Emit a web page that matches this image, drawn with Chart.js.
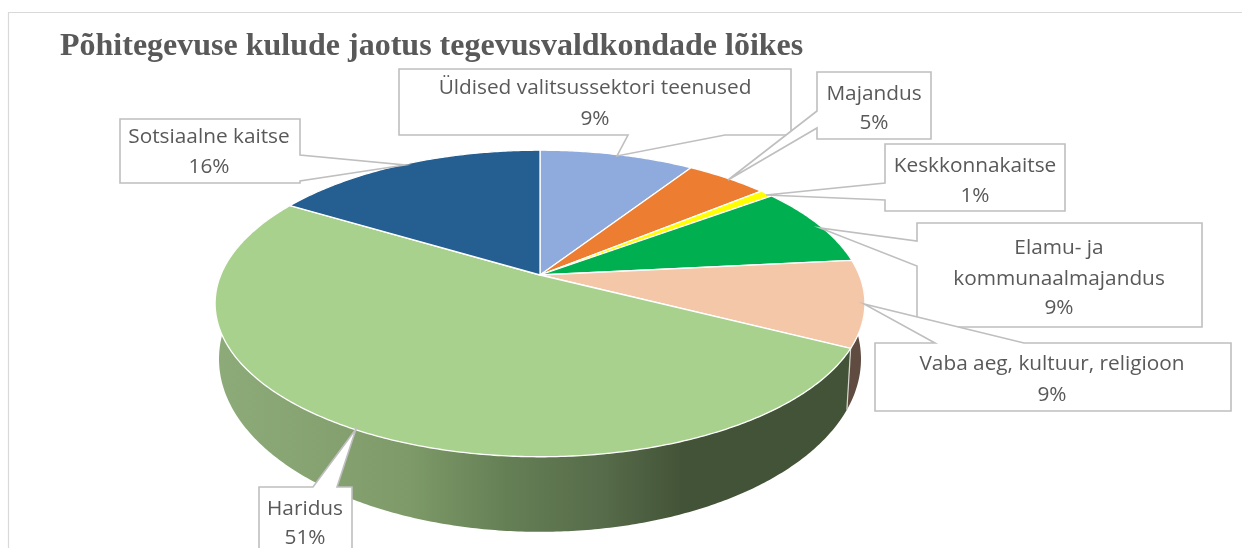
<!DOCTYPE html>
<html><head><meta charset="utf-8">
<style>html,body{margin:0;padding:0;background:#fff}#w{width:1242px;height:548px;position:relative}</style>
<script src="https://cdn.jsdelivr.net/npm/chart.js@4/dist/chart.umd.min.js"></script>
</head><body><div id="w"><canvas id="c" width="1242" height="548"></canvas></div>
<script>
const titleText = 'Põhitegevuse kulude jaotus tegevusvaldkondade lõikes';
const categories = ['Üldised valitsussektori teenused','Majandus','Keskkonnakaitse','Elamu- ja kommunaalmajandus','Vaba aeg, kultuur, religioon','Haridus','Sotsiaalne kaitse'];
const values = [9.2,4.9,0.8,8.5,9.1,51.1,16.4];
const sliceColors = ['#8faadc','#ed7d31','#ffff00','#00b050','#f4c7a9','#a9d18e','#255e91'];
const wallColors = ['#5f7fb0','#a85820','#b0b000','#007a38','#5f4b40',null,'#1a4268'];
const labelLines = [['Üldised valitsussektori teenused'],['Majandus'],['Keskkonnakaitse'],['Elamu- ja','kommunaalmajandus'],['Vaba aeg, kultuur, religioon'],['Haridus'],['Sotsiaalne kaitse']];
// callout outlines (page layout): box, then pointer tip and the two points where it leaves the box
const callouts = [
 {i:6,box:[120,119,300,183],side:'r',a:155,b:181,tip:[405,165],ty:[137,167],cx:209},
 {i:0,box:[399,69,791,135],side:'b',a:725,b:628,tip:[617,156],ty:[88,119],cx:595},
 {i:1,box:[817,72,931,139],side:'l',a:128,b:111,tip:[728,180],ty:[94,123],cx:874},
 {i:2,box:[885,144,1065,211],side:'l',a:200,b:183,tip:[766,195],ty:[166,196],cx:975},
 {i:3,box:[917,223,1202,327],side:'l',a:266,b:241,tip:[820,228],ty:[248,279,308],cx:1059},
 {i:4,box:[875,343,1231,411],side:'t',a:935,b:1024,tip:[864,304],ty:[364,395],cx:1052},
 {i:5,box:[259,487,352,556],side:'t',a:313,b:337,tip:[356,429],ty:[509,538],cx:305}
];
const persp = 0.1857, topStretch = 2.157;       // top face: perspective and horizontal stretch
const wallDrop = 52, wallScale = 0.988, wallScaleY = 1.127; // lower rim relative to the top rim
const wallStops = [[0,'#8dab79'],[.2,'#84a06f'],[.3,'#7d9a68'],[.45,'#657f55'],[.6,'#566b4a'],[.72,'#435337'],[1,'#435337']];

function proj(arc,a,low){
  const u=Math.cos(a),v=Math.sin(a),d=1-persp*v,R=arc.outerRadius;
  const sx=low?wallScale:1, sy=low?wallScaleY:1;
  return [arc.x+u/d*R*topStretch*sx, arc.y+(low?wallDrop:0)+v/d*R*sy];
}
function rim(ctx,arc,a0,a1,low,move){
  const n=Math.max(2,Math.ceil(Math.abs(a1-a0)/0.01));
  for(let k=0;k<=n;k++){
    const p=proj(arc,a0+(a1-a0)*k/n,low);
    if(k===0&&move)ctx.moveTo(p[0],p[1]);else ctx.lineTo(p[0],p[1]);
  }
}
const pie3d = {
  id:'pie3d',
  beforeDatasetsDraw(chart){
    const ctx=chart.ctx, arcs=chart.getDatasetMeta(0).data;
    ctx.save();
    // side walls
    arcs.forEach((arc,i)=>{
      if(Math.sin(arc.endAngle)<-0.2 && Math.sin(arc.startAngle)<-0.2) return;
      if(arc.endAngle-arc.startAngle<1e-6) return;
      ctx.beginPath();
      rim(ctx,arc,arc.startAngle,arc.endAngle,false,true);
      rim(ctx,arc,arc.endAngle,arc.startAngle,true,false);
      ctx.closePath();
      if(wallColors[i]){ctx.fillStyle=wallColors[i];}
      else{
        const g=ctx.createLinearGradient(arc.x-325,0,arc.x+325,0);
        wallStops.forEach(s=>g.addColorStop(s[0],s[1]));
        ctx.fillStyle=g;
      }
      ctx.fill();
    });
    // pale seam between Vaba and Haridus walls
    const h=arcs[5];
    const p0=proj(h,h.startAngle,false),p1=proj(h,h.startAngle,true);
    ctx.strokeStyle='#d8d8d0';ctx.lineWidth=1.2;
    ctx.beginPath();ctx.moveTo(p0[0],p0[1]);ctx.lineTo(p1[0],p1[1]);ctx.stroke();
    // top faces
    arcs.forEach((arc,i)=>{
      ctx.beginPath();
      ctx.moveTo(arc.x,arc.y);
      rim(ctx,arc,arc.startAngle,arc.endAngle,false,false);
      ctx.closePath();
      ctx.fillStyle=sliceColors[i];ctx.fill();
      ctx.strokeStyle='#ffffff';ctx.lineWidth=1.3;ctx.lineJoin='round';ctx.stroke();
    });
    ctx.restore();
    return false;
  },
  afterDraw(chart){
    const ctx=chart.ctx;
    ctx.save();
    // outer frame
    ctx.strokeStyle='#d9d9d9';ctx.lineWidth=1.2;
    ctx.beginPath();ctx.moveTo(8.5,548);ctx.lineTo(8.5,12.5);ctx.lineTo(1242,12.5);ctx.stroke();
    // callouts
    callouts.forEach(c=>{
      const [l,t,r,b]=c.box;
      ctx.beginPath();
      ctx.moveTo(l,t);
      if(c.side==='t'){ctx.lineTo(c.a,t);ctx.lineTo(c.tip[0],c.tip[1]);ctx.lineTo(c.b,t);}
      ctx.lineTo(r,t);
      if(c.side==='r'){ctx.lineTo(r,c.a);ctx.lineTo(c.tip[0],c.tip[1]);ctx.lineTo(r,c.b);}
      ctx.lineTo(r,b);
      if(c.side==='b'){ctx.lineTo(c.a,b);ctx.lineTo(c.tip[0],c.tip[1]);ctx.lineTo(c.b,b);}
      ctx.lineTo(l,b);
      if(c.side==='l'){ctx.lineTo(l,c.a);ctx.lineTo(c.tip[0],c.tip[1]);ctx.lineTo(l,c.b);}
      ctx.closePath();
      ctx.fillStyle='#ffffff';ctx.fill();
      ctx.strokeStyle='#bfbfbf';ctx.lineWidth=1.6;ctx.lineJoin='miter';ctx.stroke();
      ctx.fillStyle='#595959';ctx.font='20.8px "Open Sans"';ctx.textAlign='center';ctx.textBaseline='middle';
      const lines=[...labelLines[c.i],Math.round(values[c.i])+'%'];
      lines.forEach((s,k)=>ctx.fillText(s,c.cx,c.ty[k]));
    });
    ctx.restore();
  }
};
new Chart(document.getElementById('c'),{
  type:'pie',
  data:{labels:categories,datasets:[{data:values,backgroundColor:sliceColors,borderWidth:0,radius:148}]},
  plugins:[pie3d],
  options:{
    responsive:false,animation:false,
    layout:{padding:{left:60,right:222,top:28,bottom:64.4}},
    plugins:{
      legend:{display:false},tooltip:{enabled:false},
      title:{display:true,text:titleText,align:'start',color:'#595959',padding:{top:0,bottom:0},
        font:{family:'"Liberation Serif"',size:32,weight:'bold'}}
    }
  }
});
</script></body></html>
